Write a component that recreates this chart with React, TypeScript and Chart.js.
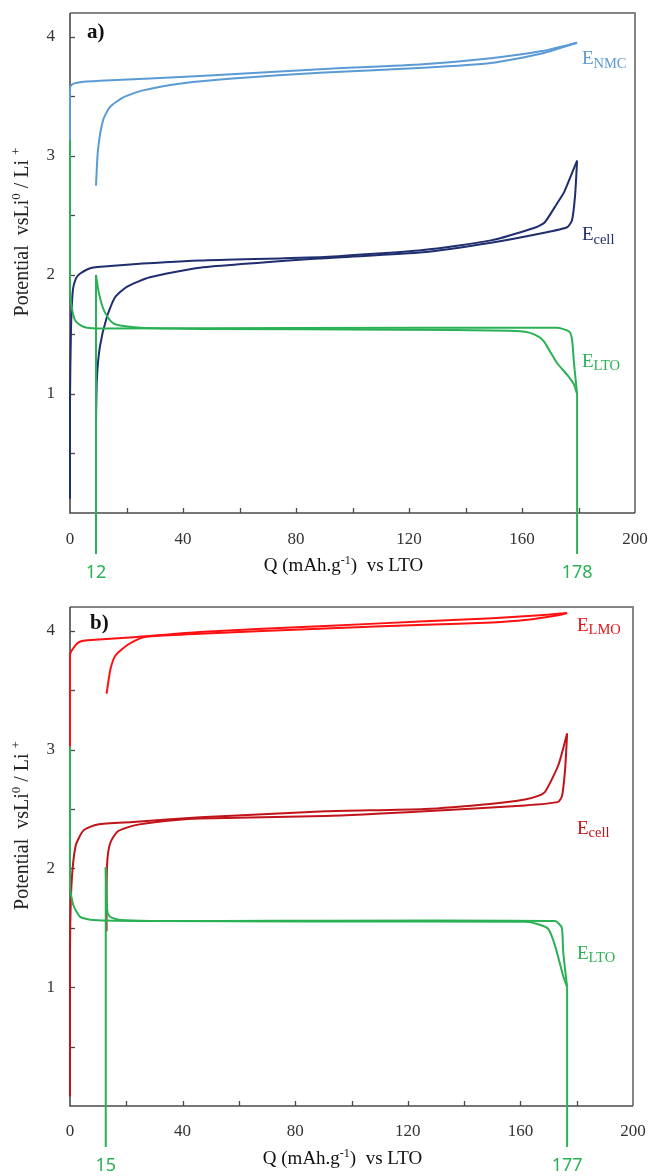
import React, { useEffect, useRef } from 'react';
import { Chart, registerables } from 'chart.js';

Chart.register(...registerables);

const SERIF = "'Liberation Serif', 'Times New Roman', serif";
const SANS = "'Noto Sans', 'Open Sans', sans-serif";

// ---------------- Panel a) : NMC / LTO ----------------
const aNmcChargeQ = [0, 0, 0.7, 2.5, 10.6, 46, 90, 125, 149, 167, 179.5];
const aNmcChargeV = [3.13, 3.57, 3.6, 3.615, 3.63, 3.67, 3.73, 3.77, 3.82, 3.88, 3.95];
const aNmcDischargeQ = [179.5, 167, 149, 125, 90, 57.6, 40, 25.8, 18.7, 14.1, 11.7, 9.9, 9.2];
const aNmcDischargeV = [3.95, 3.86, 3.78, 3.74, 3.7, 3.65, 3.61, 3.55, 3.49, 3.41, 3.3, 3.05, 2.75];

const aCellChargeQ = [0, 0, 0.35, 1.0, 2.1, 3.5, 7.8, 16.6, 46, 90, 125, 149, 165, 168, 172.4, 175, 179.5];
const aCellChargeV = [0.12, 0.95, 1.54, 1.87, 1.97, 2.01, 2.06, 2.08, 2.12, 2.15, 2.21, 2.29, 2.4, 2.44, 2.6, 2.7, 2.96];
const aCellDischargeQ = [179.5, 178.8, 177.7, 176, 167, 149, 125, 90, 46, 28.3, 20.1, 15.9, 13.1, 10.6, 9.5, 9.2];
const aCellDischargeV = [2.96, 2.67, 2.46, 2.4, 2.35, 2.27, 2.19, 2.14, 2.06, 1.98, 1.9, 1.81, 1.65, 1.4, 1.12, 0.76];

const aLtoFirstQ = [0, 0, 0, 0.35, 1.0, 1.8, 3.5, 6.0, 10.6, 80, 172.4, 176.7, 177.7, 178.4, 179.5];
const aLtoFirstV = [3.13, 2.2, 1.87, 1.77, 1.68, 1.62, 1.58, 1.556, 1.55, 1.553, 1.556, 1.525, 1.46, 1.26, 1.0];
const aLtoReturnQ = [179.5, 178.4, 176, 172.4, 169.6, 167.8, 166, 162.5, 155.5, 116.6, 46, 35, 25, 19, 15.5, 13.5, 11.7, 10.2, 9.2];
const aLtoReturnV = [1.0, 1.08, 1.16, 1.26, 1.37, 1.44, 1.48, 1.515, 1.53, 1.54, 1.545, 1.55, 1.556, 1.57, 1.59, 1.64, 1.72, 1.85, 2.0];

const aMarkerQ = [9.2, 179.5];
const aMarkerV = [2.0, 1.0];
const aMarkerText = ['12', '178'];

const aLabelSub = ['NMC', 'cell', 'LTO'];
const aLabelQ = [181.2, 181.2, 181.2];
const aLabelV = [3.77, 2.29, 1.23];

// ---------------- Panel b) : LMO / LTO ----------------
const bLmoChargeQ = [0, 0, 0, 2.0, 3.7, 6.2, 22.5, 46, 90.7, 126, 150, 167, 176.6];
const bLmoChargeV = [3.03, 3.43, 3.8, 3.88, 3.91, 3.92, 3.945, 3.99, 4.04, 4.08, 4.105, 4.13, 4.15];
const bLmoDischargeQ = [176.6, 173.4, 161.6, 150, 126, 90.7, 46, 36.7, 26, 20.4, 16.1, 14.4, 13.3, 13.0];
const bLmoDischargeV = [4.15, 4.13, 4.09, 4.07, 4.05, 4.02, 3.975, 3.965, 3.945, 3.88, 3.79, 3.68, 3.52, 3.47];

const bCellChargeQ = [0, 0, 0.5, 2.0, 4.8, 9.8, 22.5, 46.3, 90.7, 126, 150, 161.6, 166.3, 168.8, 173.5, 176.6];
const bCellChargeV = [0.08, 1.3, 1.85, 2.19, 2.32, 2.37, 2.39, 2.43, 2.48, 2.5, 2.545, 2.58, 2.61, 2.645, 2.87, 3.135];
const bCellDischargeQ = [176.6, 175.9, 174.8, 173.4, 161.6, 126, 90.7, 46.3, 34.6, 22.5, 16.9, 14.4, 13.3, 13.0, 13.0];
const bCellDischargeV = [3.135, 2.84, 2.61, 2.56, 2.53, 2.48, 2.44, 2.42, 2.4, 2.36, 2.31, 2.22, 2.08, 1.85, 1.47];

const bLtoFirstQ = [0, 0, 1.2, 3.7, 8.3, 28.6, 172.3, 174.7, 175.2, 176.6];
const bLtoFirstV = [3.02, 1.85, 1.69, 1.59, 1.565, 1.557, 1.557, 1.5, 1.3, 1.0];
const bLtoReturnQ = [176.6, 175.2, 172.3, 169.9, 166.3, 161.7, 81.8, 28.6, 17.9, 14.4, 13.3, 12.8, 12.7];
const bLtoReturnV = [1.0, 1.095, 1.35, 1.49, 1.53, 1.55, 1.553, 1.557, 1.565, 1.59, 1.63, 1.91, 2.01];

const bMarkerQ = [12.7, 176.6];
const bMarkerV = [2.01, 1.0];
const bMarkerText = ['15', '177'];

const bLabelSub = ['LMO', 'cell', 'LTO'];
const bLabelQ = [180.1, 180.1, 180.1];
const bLabelV = [4.0, 2.29, 1.24];

// ---------------- axes ----------------
const xMin = 0;
const xMax = 200;
const xStep = 20;
const xLabelEvery = 40;
const yMin = 0;
const yMax = 4.2;
const yStep = 0.5;

// ---------------- colours ----------------
const NMC_BLUE = '#5b9bd5';
const CELL_NAVY = '#1f2e6e';
const LTO_GREEN = '#2bb155';
const LMO_RED = '#ff1010';
const CELL_RED = '#c0141a';

type Curve = { q: number[]; v: number[]; color: string };
type Panel = {
  tag: string;
  curves: Curve[];
  markerQ: number[];
  markerV: number[];
  markerText: string[];
  labelSub: string[];
  labelQ: number[];
  labelV: number[];
  labelColors: string[];
  padTop: number;
  padRight: number;
  xAxisH: number;
  xTickPad: number;
  tagDx: number;
  tagDy: number;
};

const panelA: Panel = {
  tag: 'a)',
  curves: [
    { q: aNmcChargeQ, v: aNmcChargeV, color: NMC_BLUE },
    { q: aNmcDischargeQ, v: aNmcDischargeV, color: NMC_BLUE },
    { q: aLtoFirstQ, v: aLtoFirstV, color: LTO_GREEN },
    { q: aLtoReturnQ, v: aLtoReturnV, color: LTO_GREEN },
    { q: aCellChargeQ, v: aCellChargeV, color: CELL_NAVY },
    { q: aCellDischargeQ, v: aCellDischargeV, color: CELL_NAVY },
  ],
  markerQ: aMarkerQ,
  markerV: aMarkerV,
  markerText: aMarkerText,
  labelSub: aLabelSub,
  labelQ: aLabelQ,
  labelV: aLabelV,
  labelColors: [NMC_BLUE, CELL_NAVY, LTO_GREEN],
  padTop: 13,
  padRight: 15,
  xAxisH: 75,
  xTickPad: 16,
  tagDx: 17,
  tagDy: 24.5,
};

const panelB: Panel = {
  tag: 'b)',
  curves: [
    { q: bLmoChargeQ, v: bLmoChargeV, color: LMO_RED },
    { q: bLmoDischargeQ, v: bLmoDischargeV, color: LMO_RED },
    { q: bLtoFirstQ, v: bLtoFirstV, color: LTO_GREEN },
    { q: bLtoReturnQ, v: bLtoReturnV, color: LTO_GREEN },
    { q: bCellChargeQ, v: bCellChargeV, color: CELL_RED },
    { q: bCellDischargeQ, v: bCellDischargeV, color: CELL_RED },
  ],
  markerQ: bMarkerQ,
  markerV: bMarkerV,
  markerText: bMarkerText,
  labelSub: bLabelSub,
  labelQ: bLabelQ,
  labelV: bLabelV,
  labelColors: ['#e81418', CELL_RED, LTO_GREEN],
  padTop: 19,
  padRight: 17,
  xAxisH: 70,
  xTickPad: 15,
  tagDx: 20,
  tagDy: 21.5,
};

type Seg = { t: string; size: number; dy?: number; weight?: string };

function drawRich(ctx: CanvasRenderingContext2D, segs: Seg[], x: number, y: number, family: string, color: string, align: 'left' | 'center') {
  ctx.fillStyle = color;
  ctx.textAlign = 'left';
  ctx.textBaseline = 'alphabetic';
  const widths = segs.map((s) => {
    ctx.font = `${s.weight || 'normal'} ${s.size}px ${family}`;
    return ctx.measureText(s.t).width;
  });
  const total = widths.reduce((a, b) => a + b, 0);
  let cx = align === 'center' ? x - total / 2 : x;
  segs.forEach((s, i) => {
    ctx.font = `${s.weight || 'normal'} ${s.size}px ${family}`;
    ctx.fillText(s.t, cx, y + (s.dy || 0));
    cx += widths[i];
  });
}

function makeOverlay(panel: Panel) {
  return {
    id: 'overlay',
    beforeDatasetsDraw(chart: any) {
      const { ctx, chartArea: a, scales } = chart;
      const xs = scales.x;
      const ys = scales.y;
      ctx.save();
      ctx.strokeStyle = '#4a4a4a';
      ctx.lineWidth = 1.3;
      xs.ticks.forEach((t: any) => {
        if (t.value <= xMin || t.value >= xMax) return;
        const px = Math.round(xs.getPixelForValue(t.value)) + 0.5;
        ctx.beginPath();
        ctx.moveTo(px, a.bottom);
        ctx.lineTo(px, a.bottom - 5);
        ctx.stroke();
      });
      ys.ticks.forEach((t: any) => {
        const k = t.value / yStep;
        if (t.value <= yMin || Math.abs(k - Math.round(k)) > 1e-6) return;
        const py = Math.round(ys.getPixelForValue(t.value)) + 0.5;
        ctx.beginPath();
        ctx.moveTo(a.left, py);
        ctx.lineTo(a.left + 5, py);
        ctx.stroke();
      });
      // frame: top/right grey, left/bottom dark
      ctx.strokeStyle = '#858585';
      ctx.lineWidth = 2;
      ctx.beginPath();
      ctx.moveTo(a.left, a.top);
      ctx.lineTo(a.right, a.top);
      ctx.lineTo(a.right, a.bottom);
      ctx.stroke();
      ctx.strokeStyle = '#4a4a4a';
      ctx.lineWidth = 1.6;
      ctx.beginPath();
      ctx.moveTo(a.left, a.top);
      ctx.lineTo(a.left, a.bottom);
      ctx.lineTo(a.right, a.bottom);
      ctx.stroke();
      ctx.restore();
    },
    afterDatasetsDraw(chart: any) {
      const { ctx, chartArea: a, scales } = chart;
      const xs = scales.x;
      const ys = scales.y;
      ctx.save();
      // vertical capacity markers
      ctx.strokeStyle = LTO_GREEN;
      ctx.lineWidth = 2;
      panel.markerQ.forEach((q, i) => {
        const px = xs.getPixelForValue(q);
        const py = ys.getPixelForValue(panel.markerV[i]);
        ctx.beginPath();
        ctx.moveTo(px, py);
        ctx.lineTo(px, a.bottom + 41);
        ctx.stroke();
        ctx.fillStyle = LTO_GREEN;
        ctx.font = `normal 18px ${SANS}`;
        ctx.textAlign = 'center';
        ctx.textBaseline = 'alphabetic';
        ctx.fillText(panel.markerText[i], px, a.bottom + 65);
      });
      // curve labels E_xxx
      panel.labelSub.forEach((sub, i) => {
        const px = xs.getPixelForValue(panel.labelQ[i]);
        const py = ys.getPixelForValue(panel.labelV[i]);
        drawRich(ctx, [
          { t: 'E', size: 19 },
          { t: sub, size: 14.5, dy: 3.5 },
        ], px, py, SERIF, panel.labelColors[i], 'left');
      });
      // panel tag
      drawRich(ctx, [{ t: panel.tag, size: 21, weight: 'bold' }], a.left + panel.tagDx, a.top + panel.tagDy, SERIF, '#111', 'left');
      // x title
      drawRich(ctx, [
        { t: 'Q (mAh.g', size: 19 },
        { t: '-1', size: 12, dy: -7 },
        { t: ')  vs LTO', size: 19 },
      ], (a.left + a.right) / 2 - 9, a.bottom + 58, SERIF, '#111', 'center');
      // y title
      ctx.save();
      ctx.translate(28, (a.top + a.bottom) / 2 - 31);
      ctx.rotate(-Math.PI / 2);
      drawRich(ctx, [
        { t: 'Potential  vsLi', size: 20 },
        { t: '0', size: 13, dy: -8 },
        { t: ' / Li ', size: 20 },
        { t: '+', size: 13, dy: -8 },
      ], 0, 0, SERIF, '#222', 'center');
      ctx.restore();
      ctx.restore();
    },
  };
}

function zeroPad(s: any) {
  s.paddingTop = 0;
  s.paddingBottom = 0;
  s.paddingLeft = 0;
  s.paddingRight = 0;
}

function PanelChart({ panel }: { panel: Panel }) {
  const ref = useRef<HTMLCanvasElement>(null);
  useEffect(() => {
    const canvas = ref.current;
    if (!canvas) return;
    const chart = new Chart(canvas, {
      type: 'scatter',
      data: {
        datasets: panel.curves.map((c) => ({
          data: c.q.map((q, i) => ({ x: q, y: c.v[i] })),
          showLine: true,
          borderColor: c.color,
          backgroundColor: c.color,
          borderWidth: 2,
          pointRadius: 0,
          tension: 0.2,
          fill: false,
          clip: 6,
        })),
      },
      options: {
        responsive: false,
        animation: false,
        devicePixelRatio: 1,
        events: [],
        layout: { padding: { top: panel.padTop, right: panel.padRight, left: 0, bottom: 0 } },
        plugins: { legend: { display: false }, tooltip: { enabled: false } },
        scales: {
          x: {
            type: 'linear',
            min: xMin,
            max: xMax,
            afterFit: (s: any) => { s.height = panel.xAxisH; zeroPad(s); },
            grid: { display: false, drawTicks: false },
            border: { display: false },
            ticks: {
              stepSize: xStep,
              autoSkip: false,
              maxRotation: 0,
              padding: panel.xTickPad,
              color: '#333',
              font: { family: SERIF, size: 17 },
              callback: (v: any) => (Number(v) % xLabelEvery === 0 ? String(v) : ''),
            },
          },
          y: {
            type: 'linear',
            min: yMin,
            max: yMax,
            afterFit: (s: any) => { s.width = 70; zeroPad(s); },
            grid: { display: false, drawTicks: false },
            border: { display: false },
            ticks: {
              stepSize: yStep,
              autoSkip: false,
              padding: 15,
              color: '#333',
              font: { family: SERIF, size: 17 },
              callback: (v: any) => {
                const n = Number(v);
                return n > 0 && Math.abs(n - Math.round(n)) < 1e-6 ? String(Math.round(n)) : '';
              },
            },
          },
        },
      },
      plugins: [makeOverlay(panel)],
    } as any);
    return () => chart.destroy();
  }, [panel]);
  return <canvas ref={ref} width={650} height={588} style={{ display: 'block', width: 650, height: 588 }} />;
}

export default function App() {
  return (
    <div style={{ position: 'absolute', left: 0, top: 0, width: 650, height: 1176, background: '#fff' }}>
      <PanelChart panel={panelA} />
      <PanelChart panel={panelB} />
    </div>
  );
}
